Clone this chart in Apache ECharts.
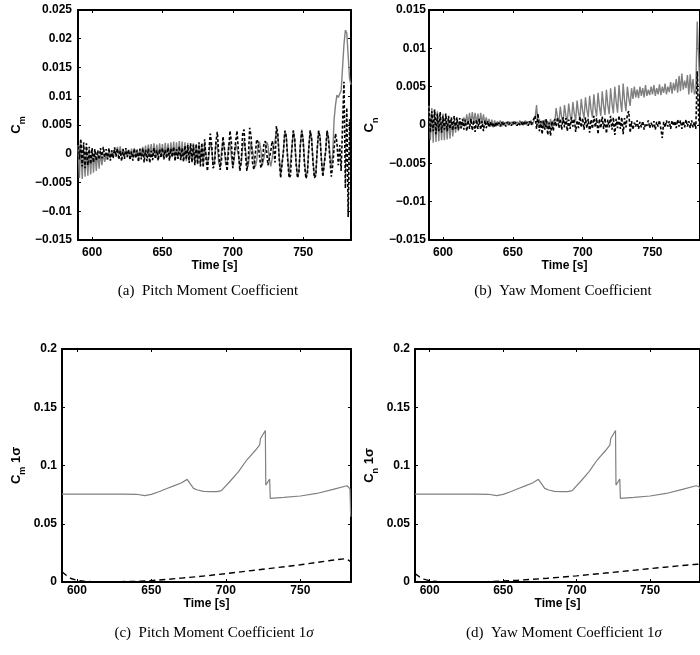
<!DOCTYPE html>
<html>
<head>
<meta charset="utf-8">
<script src="https://cdn.jsdelivr.net/npm/echarts@6/dist/echarts.min.js"></script>
<style>
  html, body { margin: 0; padding: 0; background: #fff; }
  #chart { width: 700px; height: 655px; }
</style>
</head>
<body>
<div id="chart"></div>
<script>
// ---- Moment coefficient histories, one sample per second from 590 s (values in units of 1e-3) ----
const sampleStart = 590;

const pitchSolid = [
  1.5, -4.2, 1.8, -4.4, 1.2, -4.0, 1.0, -3.8, 0.8, -3.6,
  0.8, -3.3, 0.5, -3.0, 0.4, -2.6, 0.2, -2.0, 0.0, -1.4,
  -0.2, -1.0, 0.4, -0.8, 0.6, -0.6, 0.9, -0.3, 1.2, -0.2,
  1.3, -0.4, 0.9, -0.6, 0.8, -0.5, 0.7, -0.7, 0.9, -0.5,
  1.0, -0.6, 0.8, -0.8, 1.0, -0.7, 1.2, -0.6, 1.4, -0.5,
  1.6, -0.4, 1.7, -0.6, 1.8, -0.5, 1.6, -0.6, 1.8, -0.4,
  1.7, -0.7, 1.9, -0.5, 1.8, -0.8, 2.0, -0.6, 2.1, -0.9,
  2.0, -0.8, 2.2, -1.0, 2.1, -1.1, 2.0, -1.3, 1.9, -1.2,
  1.5, -1.5, 1.8, -1.4, 1.6, -1.8, 1.8, -1.6, 1.5, -2.0,
  1.6, 0.0, -2.0, -0.5, 2.0, 1.0, -2.0, -1.2, 2.1, 1.5,
  -1.6, -2.2, 0.5, 2.2, 0.8, -2.0, -1.5, 1.5, 2.1, -0.5,
  -2.3, -1.0, 1.8, 2.0, -0.2, -2.3, -1.5, 1.2, 2.2, 0.8,
  -1.8, -2.2, 0.0, 2.0, 1.8, -0.8, -2.3, -1.2, 1.5, 2.1,
  0.5, -2.0, -2.0, 0.3, 2.1, 1.5, -1.0, -2.2, -0.8, 1.5,
  2.2, 4.0, 3.0, -0.5, -3.5, -3.8, 0.5, 4.0, 3.2, -0.5,
  -3.8, -3.5, 1.0, 4.1, 2.5, -1.5, -4.0, -3.0, 1.5, 4.2,
  2.5, -1.5, -4.0, -3.2, 1.0, 4.1, 2.8, -1.2, -4.0, -3.5,
  0.8, 4.0, 3.0, -1.0, -3.8, -3.5, 0.5, 4.0, 3.0, 0.0,
  -2.5, 0.0, 6.0, 8.5, 10.2, 9.8, 9.5, 11.0, 15.0, 19.0,
  21.5, 21.0, 17.0, 13.0, 12.0
];

const pitchDashed = [
  3.0, -1.0, 2.6, -2.2, 2.0, -2.5, 1.8, -2.0, 1.2, -1.8,
  1.0, -1.5, 0.8, -1.2, 0.6, -1.0, 1.0, -0.8, 1.2, -0.6,
  0.8, -1.0, 1.0, -1.2, 0.6, -0.8, 1.1, -0.5, 0.9, -1.0,
  0.5, -1.3, 0.8, -0.9, 1.0, -0.6, 0.7, -1.1, 0.4, -1.2,
  0.9, -0.8, 0.6, -1.4, 0.8, -1.0, 1.0, -1.5, 0.7, -1.3,
  0.9, -1.6, 0.5, -1.1, 1.0, -0.9, 0.6, -1.2, 0.8, -0.7,
  1.0, -1.0, 0.7, -0.8, 1.1, -1.2, 0.9, -0.6, 1.2, -1.3,
  0.8, -0.9, 1.3, -1.1, 1.0, -1.4, 1.4, -1.0, 1.5, -1.6,
  1.8, -1.5, 1.6, -2.0, 1.7, -1.8, 2.0, -2.2, 1.9, -2.4,
  2.5, -1.0, -3.0, 0.5, 3.5, 1.5, -2.5, -2.0, 2.0, 3.8,
  0.0, -2.8, -1.0, 3.0, 3.2, -1.0, -3.0, 0.5, 4.0, 2.0,
  -2.5, -2.5, 2.0, 4.0, 0.5, -3.0, -1.5, 3.5, 4.2, 0.0,
  -3.0, -1.0, 4.5, 3.0, -1.5, -2.8, 0.0, 2.5, 2.0, -0.5,
  -2.5, -1.5, 1.5, 2.2, 0.5, -2.0, -2.2, 0.5, 2.2, 1.0,
  -1.5, 4.8, 3.5, -1.0, -4.2, -4.0, 0.5, 4.0, 3.0, -1.0,
  -4.2, -3.8, 1.0, 4.0, 2.5, -1.8, -4.2, -3.2, 1.5, 4.0,
  2.2, -2.0, -4.3, -3.5, 1.0, 4.0, 2.5, -1.5, -4.2, -3.8,
  0.8, 4.0, 2.8, -1.2, -4.0, -3.8, 0.5, 4.0, 2.5, -1.0,
  -4.0, -2.0, 1.0, 3.5, 2.0, -2.0, 1.5, -3.0, 5.0, 12.5,
  -6.0, 8.0, -11.0, 6.0, -5.0
];

const yawSolid = [
  2.5, -2.0, 2.2, -2.3, 2.0, -2.2, 1.8, -2.1, 1.6, -2.0,
  1.5, -2.0, 1.3, -1.9, 1.0, -1.8, 0.8, -1.5, 0.5, -1.0,
  0.6, -0.8, 0.5, -0.5, 0.2, 1.0, 0.0, 1.4, 0.1, 1.6,
  0.2, 1.7, 0.3, 1.6, 0.1, 1.5, 0.0, 1.6, 0.2, 1.4,
  0.1, 1.0, 0.0, 0.8, -0.2, 0.7, -0.3, 0.6, -0.2, 0.5,
  -0.1, 0.6, -0.2, 0.5, 0.0, 0.4, 0.0, 0.5, 0.1, 0.4,
  0.1, 0.5, 0.0, 0.4, 0.1, 0.6, 0.0, 0.5, 0.1, 0.6,
  0.0, 0.5, 0.1, 0.6, 0.0, 0.5, 1.0, 2.6, 0.0, 0.8,
  -0.3, 0.6, -0.4, 0.7, -0.2, 0.5, -0.5, 0.8, -0.3, 0.6,
  0.2, 2.2, 1.0, 0.2, 2.4, 1.0, 0.3, 2.6, 1.2, 0.4,
  2.8, 1.3, 0.5, 3.0, 1.5, 0.6, 3.2, 1.6, 0.8, 3.4,
  1.8, 0.9, 3.6, 2.0, 1.0, 3.8, 2.0, 1.0, 4.0, 2.2,
  1.1, 4.2, 2.4, 1.2, 4.4, 2.5, 1.3, 4.6, 2.6, 1.4,
  4.8, 2.8, 1.5, 5.0, 3.0, 1.6, 5.2, 3.2, 1.7, 5.4,
  3.2, 1.8, 5.0, 3.5, 2.5, 4.8, 3.4, 5.0, 3.6, 4.6,
  3.5, 5.0, 3.8, 4.8, 3.6, 5.2, 3.8, 4.6, 3.9, 5.0,
  4.0, 5.2, 3.8, 4.8, 4.0, 5.3, 3.9, 5.0, 4.2, 5.4,
  4.0, 5.0, 4.3, 5.6, 4.1, 5.5, 4.5, 6.0, 4.2, 6.4,
  4.4, 6.7, 4.6, 5.8, 4.8, 6.5, 4.0, 6.6, 4.2, 6.0,
  4.0, 4.5, 13.5, 9.0, 4.0
];

const yawDashed = [
  2.2, -1.0, 1.8, -0.8, 2.0, -1.2, 1.5, -0.8, 1.7, -1.0,
  1.2, -0.6, 1.5, -0.8, 1.2, -0.5, 1.0, -0.7, 1.2, -0.5,
  1.0, -0.6, 0.9, -0.4, 0.8, -0.6, 0.7, -0.8, 0.6, -0.5,
  0.8, -0.7, 0.6, -0.9, 0.7, -0.5, 0.8, -0.6, 0.5, -0.8,
  0.6, -0.4, 0.5, -0.3, 0.4, -0.2, 0.3, -0.3, 0.4, -0.1,
  0.3, -0.2, 0.4, -0.1, 0.3, -0.2, 0.4, 0.0, 0.3, -0.1,
  0.4, 0.0, 0.4, -0.1, 0.3, 0.0, 0.4, -0.1, 0.5, 0.0,
  0.4, -0.1, 0.5, 0.0, 0.4, 0.2, 1.2, -0.5, 1.5, -0.8,
  0.5, -1.2, 0.6, -0.6, 0.8, -1.3, 0.3, -1.4, 0.5, -0.8,
  0.8, -0.2, 1.0, -0.4, 0.8, -0.6, 1.0, -0.3, 0.9, -0.8,
  0.7, -0.5, 1.0, -0.2, 0.8, -0.9, 0.6, -0.4, 1.1, -0.3,
  0.9, -0.6, 1.0, -0.4, 0.8, -1.0, 0.7, -0.5, 1.2, -0.3,
  0.9, -1.2, 0.8, -0.4, 1.1, -0.5, 0.9, -1.1, 0.7, -0.3,
  1.2, -0.6, 1.0, -1.3, 0.8, -0.4, 1.2, -0.5, 1.0, -1.2,
  0.9, -0.3, 1.4, 1.8, -1.0, 0.5, -0.6, 0.3, -0.2, 0.6,
  -0.5, 0.4, -0.3, 0.5, -0.6, 0.2, -0.1, 0.6, -0.4, 0.3,
  -0.3, 0.5, -0.6, 0.4, -0.2, 0.6, -0.5, -1.7, 0.4, -0.3,
  0.6, -0.2, 0.5, -0.5, 0.6, -0.1, 0.5, -0.4, 0.7, -0.2,
  0.6, -0.5, 0.5, -0.3, 0.7, -0.2, 0.5, -0.4, 0.6, -0.3,
  0.4, -0.5, 7.0, 1.0, -0.5
];

// ---- 1-sigma uncertainty histories ----
const sigmaSolidTime = [590, 600, 610, 620, 630, 640, 645.5, 650, 655, 660, 665, 670, 674, 678.3, 681, 685, 690, 694, 697, 703, 708.5, 714, 720, 722.7, 723.2, 726.5, 726.8, 729.4, 729.8, 739, 750, 761, 772, 781.4, 783.3, 783.8];
const pitchSigmaSolid = [0.0755, 0.0755, 0.0755, 0.0755, 0.0754, 0.0753, 0.0741, 0.0752, 0.0775, 0.0800, 0.0825, 0.0850, 0.0881, 0.0804, 0.0790, 0.0778, 0.0775, 0.0776, 0.0785, 0.0867, 0.0947, 0.1047, 0.1133, 0.1176, 0.1230, 0.1300, 0.0832, 0.0884, 0.0717, 0.0726, 0.0738, 0.0760, 0.0795, 0.0826, 0.0800, 0.0560];
const yawSigmaSolid   = [0.0755, 0.0755, 0.0755, 0.0755, 0.0754, 0.0753, 0.0741, 0.0752, 0.0775, 0.0800, 0.0825, 0.0850, 0.0881, 0.0804, 0.0790, 0.0778, 0.0775, 0.0776, 0.0785, 0.0867, 0.0947, 0.1047, 0.1133, 0.1176, 0.1230, 0.1300, 0.0832, 0.0884, 0.0717, 0.0726, 0.0738, 0.0760, 0.0795, 0.0826, 0.0820, 0.0800];

const sigmaDashedTime = [590, 593, 596, 600, 605, 610, 620, 630, 640, 650, 660, 670, 680, 690, 700, 710, 720, 730, 740, 750, 760, 770, 780, 782, 784];
const pitchSigmaDashed = [0.0088, 0.0055, 0.0030, 0.0014, 0.0006, 0.0003, 0.0002, 0.0003, 0.0006, 0.0012, 0.0022, 0.0033, 0.0045, 0.0058, 0.0072, 0.0087, 0.0102, 0.0117, 0.0132, 0.0148, 0.0166, 0.0184, 0.0200, 0.0190, 0.0172];
const yawSigmaDashed   = [0.0072, 0.0045, 0.0025, 0.0010, 0.0004, 0.0002, 0.0001, 0.0002, 0.0004, 0.0008, 0.0015, 0.0023, 0.0032, 0.0042, 0.0053, 0.0065, 0.0077, 0.0089, 0.0102, 0.0115, 0.0127, 0.0139, 0.0150, 0.0152, 0.0154];

// ---- Axis ticks ----
const timeTicks = [600, 650, 700, 750];
const timeRange = [590, 784];

// ---- helpers ----
const milliSeries = vals => vals.map((v, i) => [sampleStart + i, v / 1000]);
const zipSeries = (ts, vs) => ts.map((t, i) => [t, vs[i]]);
const tickText = v => String(parseFloat(v.toFixed(6))).replace('-', '\u2212');

const SANS = 'Liberation Sans';
const SERIF = 'Liberation Serif';
const GREY = '#808080';

const panels = [
  { grid: { left: 78, top: 10, width: 273, height: 230 }, yMin: -0.015, yMax: 0.025, yStep: 0.005,
    yName: '{c|C}{s|m}', yGap: 51, yMargin: 6, xMargin: 7, xGap: 20,
    solid: milliSeries(pitchSolid), dashed: milliSeries(pitchDashed), dash: [3, 2], solidWidth: 1.4, dashWidth: 1.6 },
  { grid: { left: 429, top: 10, width: 274, height: 230 }, yMin: -0.015, yMax: 0.015, yStep: 0.005,
    yName: '{c|C}{s|n}', yGap: 49, yMargin: 3, xMargin: 7, xGap: 20,
    solid: milliSeries(yawSolid), dashed: milliSeries(yawDashed), dash: [3, 2], solidWidth: 1.4, dashWidth: 1.6 },
  { grid: { left: 62, top: 349, width: 289, height: 233 }, yMin: 0, yMax: 0.2, yStep: 0.05,
    yName: '{c|C}{s|m}{c| 1\u03c3}', yGap: 35, yMargin: 5, xMargin: 3, xGap: 16,
    solid: zipSeries(sigmaSolidTime, pitchSigmaSolid), dashed: zipSeries(sigmaDashedTime, pitchSigmaDashed), dash: [6, 4], solidWidth: 1.2, dashWidth: 1.4 },
  { grid: { left: 415, top: 349, width: 288, height: 233 }, yMin: 0, yMax: 0.2, yStep: 0.05,
    yName: '{c|C}{s|n}{c| 1\u03c3}', yGap: 35, yMargin: 5, xMargin: 3, xGap: 16,
    solid: zipSeries(sigmaSolidTime, yawSigmaSolid), dashed: zipSeries(sigmaDashedTime, yawSigmaDashed), dash: [6, 4], solidWidth: 1.2, dashWidth: 1.4 }
];

const axisLine = { show: true, onZero: false, lineStyle: { color: '#000', width: 2 } };
const tickStyle = { color: '#000', width: 1 };
const labelFont = { color: '#000', fontFamily: SANS, fontWeight: 'bold', fontSize: 12 };

const grid = [], xAxis = [], yAxis = [], series = [];

panels.forEach((p, i) => {
  grid.push(Object.assign({ containLabel: false }, p.grid));

  // bottom time axis with labels, top mirror with ticks only
  xAxis.push({
    gridIndex: i, type: 'value', position: 'bottom', min: timeRange[0], max: timeRange[1],
    axisLine: axisLine, splitLine: { show: false },
    axisTick: { show: true, inside: true, length: 3, customValues: timeTicks, lineStyle: tickStyle },
    axisLabel: Object.assign({ customValues: timeTicks, margin: p.xMargin }, labelFont),
    name: 'Time [s]', nameLocation: 'middle', nameGap: p.xGap,
    nameTextStyle: Object.assign({ verticalAlign: 'top' }, labelFont)
  });
  xAxis.push({
    gridIndex: i, type: 'value', position: 'top', min: timeRange[0], max: timeRange[1],
    axisLine: axisLine, splitLine: { show: false },
    axisTick: { show: true, inside: true, length: 3, customValues: timeTicks, lineStyle: tickStyle },
    axisLabel: { show: false }
  });

  const yBase = {
    gridIndex: i, type: 'value', min: p.yMin, max: p.yMax, interval: p.yStep,
    axisLine: axisLine, splitLine: { show: false },
    axisTick: { show: true, inside: true, length: 3, lineStyle: tickStyle }
  };
  yAxis.push(Object.assign({}, yBase, {
    position: 'left',
    axisLabel: Object.assign({ margin: p.yMargin, formatter: tickText }, labelFont),
    name: p.yName, nameLocation: 'middle', nameGap: p.yGap, nameRotate: 90,
    nameTextStyle: {
      rich: {
        c: { fontFamily: SANS, fontWeight: 'bold', fontSize: 13, color: '#000', lineHeight: 15, verticalAlign: 'top' },
        s: { fontFamily: SANS, fontWeight: 'bold', fontSize: 9, color: '#000', lineHeight: 17, verticalAlign: 'bottom' }
      }
    }
  }));
  yAxis.push(Object.assign({}, yBase, { position: 'right', axisLabel: { show: false } }));

  series.push({
    type: 'line', xAxisIndex: 2 * i, yAxisIndex: 2 * i, data: p.solid,
    symbol: 'none', clip: true, silent: true,
    lineStyle: { color: GREY, width: p.solidWidth }
  });
  series.push({
    type: 'line', xAxisIndex: 2 * i, yAxisIndex: 2 * i, data: p.dashed,
    symbol: 'none', clip: true, silent: true,
    lineStyle: { color: '#000', width: p.dashWidth, type: p.dash }
  });
});

// sub-figure captions
const captionRich = {
  n: { fontFamily: SERIF, fontSize: 15, fill: '#000' },
  i: { fontFamily: SERIF, fontSize: 15, fontStyle: 'italic', fill: '#000' }
};
const caption = (x, y, text) => ({
  type: 'text', x: x, y: y, silent: true,
  style: { text: text, rich: captionRich, align: 'center', verticalAlign: 'middle', fill: '#000' }
});

const option = {
  animation: false,
  backgroundColor: '#fff',
  grid: grid,
  xAxis: xAxis,
  yAxis: yAxis,
  series: series,
  graphic: [
    caption(208, 291, '{n|(a)  Pitch Moment Coefficient}'),
    caption(563, 291, '{n|(b)  Yaw Moment Coefficient}'),
    caption(214, 633, '{n|(c)  Pitch Moment Coefficient 1}{i|\u03c3}'),
    caption(564, 633, '{n|(d)  Yaw Moment Coefficient 1}{i|\u03c3}')
  ]
};

const chart = echarts.init(document.getElementById('chart'), null, { renderer: 'canvas' });
chart.setOption(option);
</script>
</body>
</html>
